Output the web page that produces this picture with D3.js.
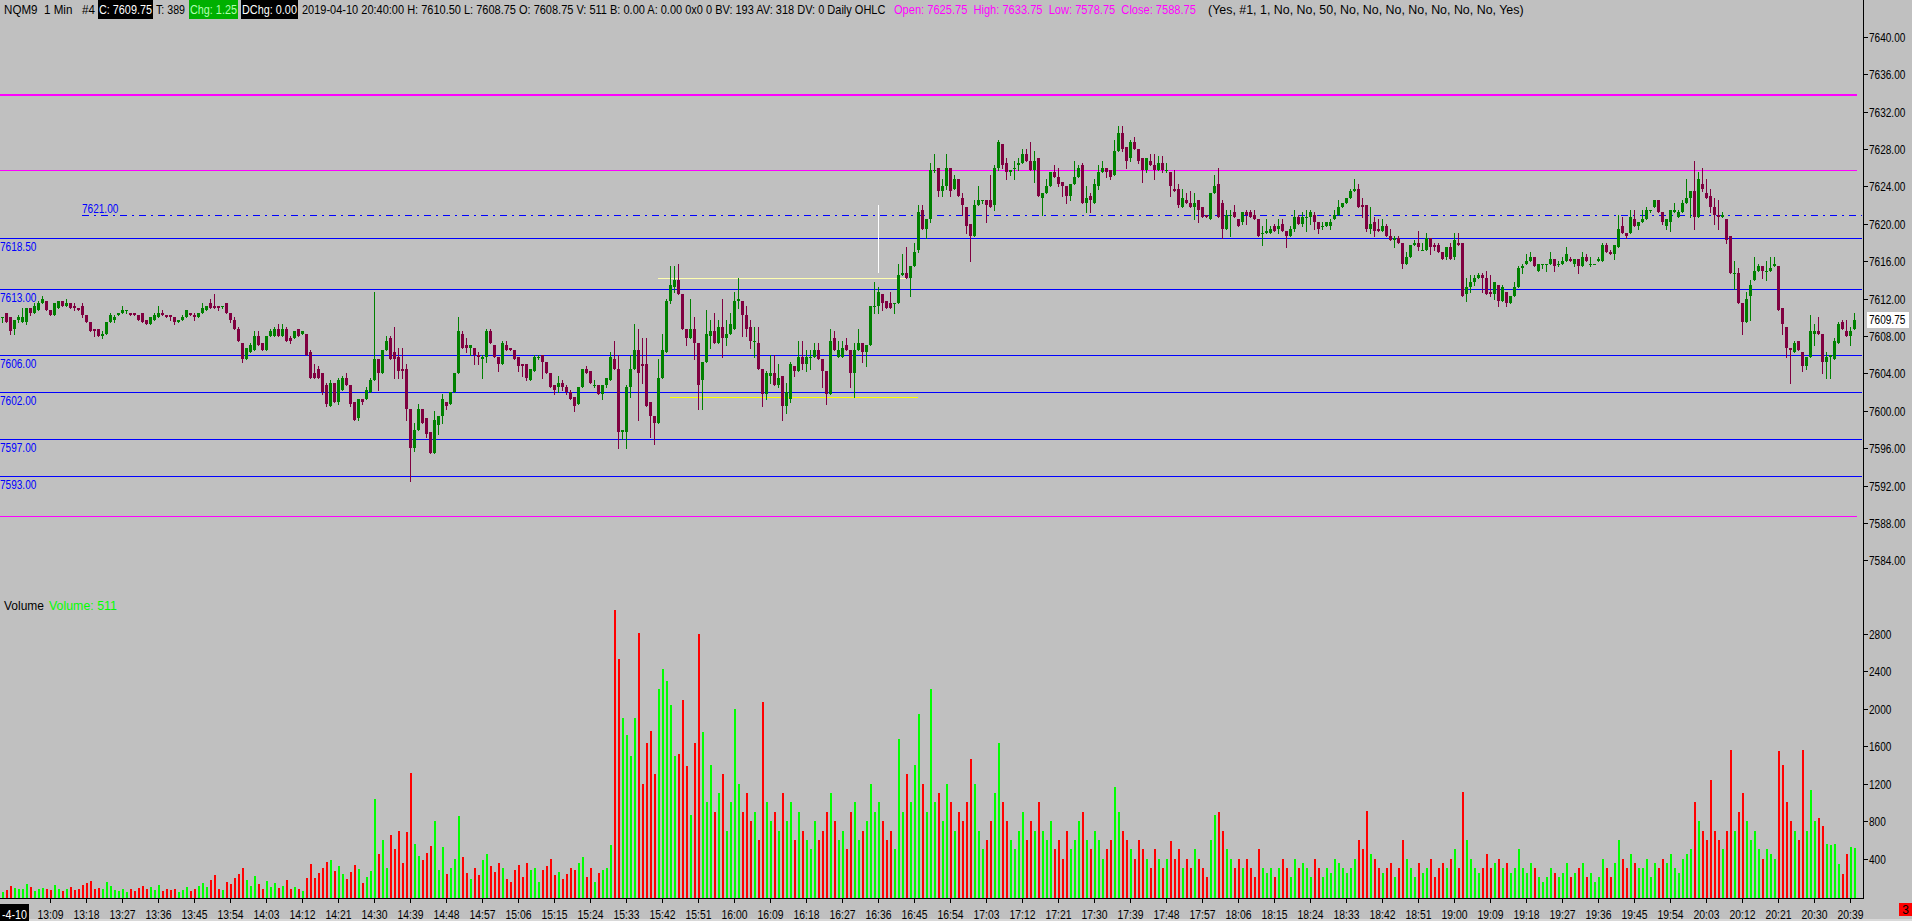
<!DOCTYPE html>
<html><head><meta charset="utf-8">
<script src="https://cdn.jsdelivr.net/npm/d3@7"></script>
<style>
html,body{margin:0;padding:0;background:#c0c0c0;overflow:hidden}
svg{display:block}
text{font-family:'Liberation Sans',Arial,'DejaVu Sans',sans-serif;white-space:pre}
</style></head><body>
<svg id="c" width="1912" height="921"></svg>
<script>
// ---- data: 1-minute bars, 12:57 .. 20:40 ----
const firstBarTime = "12:57";
const open = [
7610,7610.5,7610,7608.75,7609.75,7609.5,7609.5,7611,7610.5,7610.75,
7611.5,7611.75,7610.75,7610.25,7611,7611.75,7611.25,7611.5,7611.25,7611,
7611.25,7610.25,7609.5,7608.75,7608.75,7608,7608.25,7609.5,7609.75,7610.25,
7610.5,7610.75,7610.5,7610.5,7610.25,7610.5,7609.75,7609.25,7609.75,7610,
7610.5,7610.25,7610.25,7610,7609.5,7609.75,7610,7610.5,7610.25,7610,
7610.5,7610.75,7611.5,7611.25,7611.25,7611.25,7611.5,7610.5,7609.75,7608.75,
7607.25,7605.5,7606.25,7606.5,7608,7607.25,7606.5,7608,7608,7608.75,
7608,7608.75,7607.75,7607.75,7608.75,7608.25,7608.25,7606.25,7604,7604.5,
7604,7602.75,7600.5,7603,7601,7602.25,7603.5,7602.75,7601,7599.25,
7601.25,7601.25,7602,7603.25,7605.5,7604,7606.5,7607.75,7606.25,7605.75,
7604.5,7604.5,7600.25,7596,7598,7600.25,7599.25,7597.75,7595.5,7598.5,
7599.5,7601,7600.75,7602,7604,7608.25,7607,7606.75,7606.75,7606,
7605.5,7605.75,7608.5,7607,7605.75,7605,7607,7606.75,7606.5,7605.75,
7605,7605,7603.25,7604.25,7605.75,7606,7605.25,7604,7602.75,7602.5,
7603,7602.5,7602,7601.5,7600.75,7602.5,7604.5,7604.25,7602.75,7602.75,
7601.75,7602.75,7603.25,7605.5,7604.5,7597.75,7597.75,7602.5,7604.5,7606.5,
7605,7605,7601,7599.5,7598.75,7603.5,7606.25,7611.75,7613.25,7614,
7612.5,7608.75,7607.75,7608.75,7607.25,7603.25,7605.25,7608,7608.5,7607.25,
7609,7607.75,7608.25,7608.75,7611.75,7611.75,7610.25,7609,7607.5,7607.25,
7604.5,7601.75,7603.75,7604,7602.75,7603.75,7600.5,7601.25,7604.75,7604.25,
7605.75,7605,7605.75,7605.75,7606.5,7605.5,7604.25,7601.75,7607.75,7605.75,
7605.75,7607,7606.5,7604,7606.5,7607.25,7606.25,7607,7611.25,7611.25,
7612.5,7611.75,7611.5,7611.5,7611.5,7614.5,7614.75,7614.25,7615.5,7617.25,
7621.5,7619.5,7620.5,7625.75,7626,7623.5,7624,7626,7623.75,7624.75,
7622.75,7621.75,7620,7618.75,7622,7622.5,7622.5,7622.5,7622,7626,
7628.5,7626.5,7625.5,7626,7626.25,7626.5,7627.5,7626.75,7625.75,7627,
7622.75,7623.25,7624,7625.5,7625,7624.5,7624,7623,7624.25,7625,
7626.25,7622.25,7623,7622.25,7624,7625.5,7626,7625.75,7625.25,7627.75,
7629.75,7628.25,7627,7628.75,7628,7627,7625.75,7626.75,7626.25,7625.75,
7626.5,7625.75,7625.5,7623.75,7623.75,7621.75,7622.5,7622.25,7621.75,7622.5,
7621.75,7621,7620.5,7623.25,7624.25,7622.25,7619.5,7621,7621.25,7620.5,
7620.25,7621.25,7621.25,7621,7620.5,7619,7619,7619,7619.75,7619.5,
7620,7619.25,7618.75,7619.5,7620.75,7620,7620.75,7620.75,7621,7620.25,
7619.75,7619.75,7619.75,7620.5,7621,7621.75,7622.25,7622.75,7623.5,7623.75,
7622,7622,7619.5,7620.25,7619.5,7619.25,7619.75,7618.75,7618.25,7618.5,
7618,7615.75,7616.5,7617.75,7618,7617.25,7617.25,7618.5,7617.75,7617.75,
7617,7616.5,7617.5,7616.5,7618,7618,7612.5,7613.25,7613.75,7614.25,
7614.5,7614.25,7612.75,7612.5,7613.5,7611.75,7612.75,7611.5,7612.25,7613.25,
7615.25,7615.75,7616,7616.5,7615,7615.75,7615.75,7615.75,7616.25,7615.75,
7615.75,7616,7616.25,7615.75,7616.25,7615.5,7616.5,7615.75,7615.75,7616,
7616,7617.75,7617,7616.75,7617.5,7619.75,7619,7619,7620.5,7619.75,
7620.25,7620.5,7621.5,7621.75,7622.5,7621.25,7619.75,7620.25,7621.25,7620.75,
7621.25,7622.25,7622.75,7623.5,7620.75,7624.25,7623.25,7623,7621.75,7621,
7620.75,7620.5,7618.75,7614.75,7614.75,7611.5,7609.5,7612.25,7614,7615,
7615.5,7615,7615,7615.5,7615.5,7611,7609,7606.75,7606.25,7607.5,
7606.25,7604.75,7605.75,7608.25,7608.5,7608.25,7605.25,7605.75,7605.5,7607.25,
7609.5,7608.5,7608,7608.75];
const high = [
7610,7610.5,7610,7609.75,7610.25,7611,7611,7611,7611.5,7611.75,
7612.25,7611.75,7610.75,7611.5,7611.75,7611.75,7612,7611.5,7611.5,7611,
7611.5,7610.25,7609.5,7608.75,7608.75,7608.5,7609.5,7610.5,7610.25,7610.5,
7611.25,7610.75,7610.5,7610.5,7610.25,7610.5,7609.75,7610,7610.5,7611.25,
7610.75,7610.25,7610.25,7610,7609.75,7610.25,7610.75,7610.5,7610.5,7610.5,
7611.5,7611.25,7612,7612.5,7611.25,7611.25,7611.5,7610.5,7610,7609,
7607.25,7606.75,7607.25,7608.5,7608.5,7607.25,7608,7608.75,7609,7609.25,
7609.25,7609,7608,7608.5,7608.75,7608.5,7608.25,7606.5,7605,7604.75,
7604,7603,7603.25,7603,7603.5,7603.75,7604,7602.75,7601,7601.25,
7601.25,7602.5,7603.5,7612.75,7605.5,7606.5,7608,7608,7609,7606.75,
7606.75,7605,7600.25,7598.75,7600.75,7600.25,7599.25,7597.75,7600,7599.5,
7601.75,7601,7602,7604,7610,7608.5,7607.75,7607,7606.75,7606.25,
7606,7608.75,7608.75,7607,7605.75,7607.5,7607.5,7606.75,7606.5,7605.75,
7605,7605,7604.5,7606,7606,7606,7605.25,7604,7602.75,7603.75,
7603.25,7602.75,7602.25,7601.5,7602.5,7604.5,7604.75,7604.25,7603.25,7602.75,
7602.75,7603.5,7606.25,7607.5,7606,7598,7602.75,7606,7609.25,7608.75,
7607.75,7607.75,7601,7599.5,7605.5,7608.25,7612,7615.5,7615.5,7615.75,
7612.5,7608.75,7612,7610,7607.25,7605.25,7610.75,7609.75,7610.5,7609.75,
7612,7609.75,7610.5,7612.75,7614.25,7611.75,7611.25,7609.75,7609,7609,
7604.5,7604.25,7606,7606,7605,7603.75,7603,7605.25,7604.75,7607.5,
7607.5,7606.5,7606.5,7607.25,7607.25,7605.5,7604.25,7608.75,7608.5,7607.5,
7607.5,7607.75,7606.5,7607.25,7608.75,7607.25,7607,7611.25,7613.75,7613.25,
7612.5,7611.75,7612.75,7611.5,7615.75,7616.75,7617.5,7615.5,7618,7622,
7622,7620.5,7626.5,7627.5,7626,7624.75,7627.5,7626,7625.25,7624.75,
7623.25,7621.75,7620,7622.5,7624,7622.5,7622.5,7625.25,7626.25,7629,
7628.5,7627,7625.75,7626.75,7627,7628,7628,7628.75,7627.75,7627,
7623.25,7624.75,7625.5,7626.25,7626,7624.5,7624,7624.25,7626.75,7626.25,
7626.5,7624,7623.25,7624.75,7626.25,7626.75,7626,7625.75,7629,7630.5,
7630.5,7628.25,7629,7629.25,7628,7627,7627,7627.5,7627.5,7627.25,
7627.25,7626.5,7625.5,7625.75,7624.25,7623.75,7623.25,7623.5,7623.25,7622.5,
7621.75,7621,7623.25,7625.25,7626,7622.5,7621.5,7621.5,7622,7620.5,
7621.25,7621.5,7621.5,7621.5,7620.5,7619.75,7620.5,7619.75,7620,7620.5,
7620.5,7619.25,7619.75,7621.5,7621,7621.25,7621.5,7621.5,7621.25,7620.25,
7620.25,7620.25,7620.5,7621.5,7622.5,7622.25,7622.75,7623.75,7624.75,7624.25,
7622.75,7622,7621.75,7620.75,7620.5,7620.5,7620,7619.5,7618.75,7618.75,
7618,7617,7617.75,7618.25,7619.25,7618,7619,7618.5,7618,7618,
7617,7617.5,7618,7619,7619,7618,7614.25,7614.5,7614.5,7614.75,
7614.75,7615,7614.5,7613.75,7613.5,7613.5,7612.75,7612.25,7613.75,7615.5,
7615.75,7616.75,7617,7616.5,7615.75,7615.75,7615.75,7617,7616.25,7616,
7616.5,7617.5,7616.5,7616.25,7616.25,7617,7616.75,7616.5,7615.75,7616.5,
7618,7618,7617.25,7617.75,7621,7620.75,7619,7621.5,7621.5,7620.25,
7621.5,7621.75,7621.5,7622.5,7622.5,7621.25,7620.5,7621.5,7622.25,7621.5,
7622.5,7624.75,7623.5,7626.75,7625.5,7626,7624.75,7623.75,7622.75,7622.5,
7621.25,7620.5,7618.75,7616,7615.25,7611.5,7612.75,7614,7616.5,7615.75,
7615.5,7616,7616.5,7616.5,7615.5,7611,7609,7606.75,7607.5,7607.5,
7606.25,7605.75,7610.25,7609.25,7610,7608.25,7606.25,7606,7607.75,7609.5,
7609.75,7609.75,7609,7610.5];
const low = [
7609.5,7609.5,7608.25,7608.25,7609.5,7609.5,7609.25,7610.25,7610.5,7610.75,
7611.5,7610.75,7610.25,7610.25,7611,7611.25,7611.25,7611,7610.75,7610.75,
7610,7609.5,7608.5,7608,7608,7607.75,7608.25,7609.5,7609.5,7610.25,
7610.5,7610.5,7610.25,7610.25,7609.75,7609.5,7609.25,7609.25,7609.75,7610,
7610.25,7610,7609.75,7609.25,7609.5,7609.75,7610,7610.25,7609.75,7610,
7610.5,7610.75,7611,7611,7610.75,7611,7610.5,7609.5,7608.75,7607.5,
7605.25,7605.5,7606.25,7606.5,7607,7606.5,7606.5,7608,7608,7608,
7608,7607.5,7607.25,7607.75,7608,7608.25,7606,7603.5,7603.5,7603.5,
7601.75,7600.5,7600.5,7601,7600.75,7602.25,7602.75,7600.5,7599,7599,
7600.75,7601.25,7602,7603.25,7602.25,7604,7606.5,7605.5,7603.5,7603.5,
7603.5,7599,7592.5,7595.75,7598,7598.75,7597.25,7595.5,7595.5,7597.5,
7598.75,7600.25,7600.75,7602,7604,7606.75,7606.25,7606,7605,7605,
7603.5,7605.25,7607.25,7605.75,7604.25,7605,7606.5,7606.5,7605.5,7604.25,
7603.75,7603.25,7603.25,7604.25,7605.5,7603.5,7604,7602.5,7601.75,7602,
7602.25,7601.75,7601.25,7600,7600.75,7602.5,7604,7603,7602.5,7601.75,
7601.25,7602.5,7603.25,7604.5,7596,7597,7596,7601.5,7604.5,7599,
7603,7600.5,7597.25,7596.5,7598.75,7603.5,7606.25,7611.5,7612.75,7612.5,
7608.75,7607,7607.75,7605.5,7600.25,7600.25,7605.25,7606.75,7607.25,7607.25,
7605.75,7607,7608.25,7608.75,7611,7608,7608,7606.75,7605.75,7604.5,
7600.5,7601.25,7603,7602.75,7602.5,7599,7599.75,7601,7603.75,7604.25,
7604.5,7604.25,7604.5,7605.75,7605.5,7602.5,7600.75,7601.75,7606.5,7605.75,
7605.75,7606.5,7602.5,7601.5,7606.5,7605.25,7604.75,7607,7610.5,7610.5,
7610.75,7611,7611,7610.5,7611.5,7614.5,7614.25,7612.25,7615.5,7617,
7619.5,7618.5,7620.25,7625.5,7623,7623,7623.75,7623,7623.75,7623,
7621,7619,7616,7618.75,7622,7622.25,7620.25,7621.75,7621.5,7625.75,
7626,7624.75,7625.25,7624.75,7625.75,7626.5,7626.75,7625.75,7624.5,7623,
7621,7623.25,7624,7625,7624,7623,7622.25,7622.5,7624.25,7625,
7622.25,7621.25,7621.25,7622.25,7623.75,7625.5,7625,7624.75,7625.25,7627.75,
7627.75,7626,7626.75,7628,7626.5,7624.5,7625.5,7626.25,7624.75,7625.75,
7625.5,7625.5,7623,7623.5,7621.75,7621.75,7622.25,7621.75,7620.5,7620.25,
7620.75,7620.75,7620.5,7623.25,7620.75,7618.5,7619.5,7618.75,7620.75,7619.75,
7620,7620,7620.75,7620.5,7618.75,7617.75,7619,7619,7619.25,7619,
7619.25,7617.5,7618.75,7619.25,7620,7619.75,7619.25,7620,7619.5,7619,
7619.5,7619.75,7619.5,7620.5,7621,7621.75,7622.25,7622.75,7623.5,7621.75,
7620.75,7619.25,7619,7618.75,7619.25,7619.25,7618.75,7618.25,7617.5,7618,
7615.25,7615.75,7616.5,7617.75,7617.25,7617.25,7617.25,7616.75,7617.25,7617,
7616.25,7616.25,7616.25,7616.25,7617.75,7612.25,7611.75,7612.75,7613.5,7614.25,
7612.75,7612.5,7612.25,7612,7611.25,7611.75,7611.25,7611.5,7612.25,7613.25,
7614.75,7615.75,7616,7615.5,7615,7615.25,7615,7615.75,7615,7615.5,
7615.75,7616,7616,7615.5,7614.75,7615.5,7616,7615.5,7615.75,7616,
7616,7617,7616.75,7616.25,7617.5,7619,7618.5,7619,7619.75,7619.5,
7620.25,7620.5,7621.25,7621.75,7621.25,7620,7619.5,7619.25,7621.25,7620.75,
7621.25,7622.25,7620.75,7619.5,7620.75,7623.5,7622.75,7621.25,7620,7619.5,
7620.75,7618,7614.75,7613,7611.5,7608.25,7609.5,7609.75,7614,7615,
7614.25,7614,7615,7615.5,7610.75,7608.25,7605.75,7603,7606.25,7606.5,
7604.25,7604.5,7605.75,7607,7608.25,7604,7603.5,7603.5,7605.5,7607.25,
7608.75,7608,7607,7608.75];
const close = [
7610,7609.5,7608.5,7609.75,7610,7610,7611,7610.5,7611.25,7611.5,
7612,7610.75,7610.25,7611.5,7611.75,7611.25,7611.5,7611,7611,7610.75,
7610.25,7609.5,7608.5,7608.5,7608,7608.25,7609.5,7610.25,7610,7610.5,
7610.75,7610.75,7610.25,7610.25,7609.75,7609.5,7609.25,7610,7610.25,7610.5,
7610.25,7610,7610,7609.5,7609.75,7610,7610.75,7610.25,7610,7610.5,
7611,7611.25,7611,7611,7611,7611.25,7610.5,7609.75,7608.75,7607.5,
7605.5,7606.75,7607,7608,7607,7606.5,7608,7608.5,7608.75,7608,
7608.75,7607.5,7607.5,7608.5,7608,7608.5,7606,7603.5,7603.5,7603.5,
7602,7600.75,7603,7601,7603.25,7603.5,7602.75,7600.75,7599,7601.25,
7601,7602.25,7603.25,7605.5,7604,7606.5,7607.5,7605.5,7605.5,7604.25,
7604.25,7600.25,7596,7598,7600.25,7598.75,7597.5,7595.5,7599,7599.5,
7601.25,7600.5,7602,7604,7608.5,7606.75,7606.75,7607,7606,7605.75,
7605.75,7608.5,7607.25,7605.75,7605,7607.25,7606.5,7606.5,7605.5,7604.75,
7604.75,7603.5,7604.5,7605.75,7605.75,7605.25,7604,7602.5,7602.25,7603,
7602.5,7602,7601.25,7600.5,7602.5,7604.5,7604,7603,7602.75,7601.75,
7602.75,7603.5,7605.75,7604.5,7597.75,7598,7602.5,7604.5,7606.5,7604,
7604.75,7600.5,7599.5,7598.75,7603.5,7606.5,7611.75,7613.5,7614,7612.5,
7608.75,7607.75,7608.75,7607.25,7602.75,7605.25,7608.25,7608.5,7607.25,7609,
7607.75,7608.25,7609.25,7611.75,7612,7610.25,7608.75,7607.5,7607.5,7604.5,
7601.75,7604,7604,7602.75,7603.5,7600.5,7602,7605,7604.25,7605.75,
7605,7605.75,7605.75,7606.5,7605.5,7604.25,7601.75,7607.5,7606.5,7606.5,
7606.75,7606.5,7604,7606.5,7607.25,7606.25,7607,7611.25,7611.25,7612.75,
7611.5,7611,7611,7611.5,7614.5,7614.75,7614.25,7615.5,7617,7621.25,
7619.5,7620.5,7625.75,7625.75,7623.5,7624,7626,7623.5,7624.75,7623,
7622,7619.75,7618.75,7622,7622.5,7622.5,7622,7621.75,7626,7628.75,
7626.25,7625.5,7625.75,7626,7626.5,7627.5,7626.75,7625.75,7626.75,7623,
7623.25,7624,7625.5,7625,7624.25,7624,7623,7624.25,7625,7626,
7622.25,7622.75,7622.5,7624.25,7625.5,7626,7625.5,7625,7627.75,7629.75,
7628,7626.75,7628.75,7628,7626.75,7625.75,7627,7626.25,7625.75,7626.5,
7625.75,7625.75,7624,7623.5,7622,7622.75,7622.25,7621.75,7622.25,7621.5,
7620.75,7620.75,7623.25,7624,7620.75,7619.5,7621,7621,7620.75,7619.75,
7621.25,7621,7620.75,7620.5,7618.75,7619,7619.25,7619.5,7619.25,7619.75,
7619.25,7618.75,7619.5,7620.75,7620,7620.75,7620.75,7621.25,7620.25,7619.5,
7619.75,7620.25,7620.25,7621,7621.75,7622.25,7622.75,7623.5,7623.75,7621.75,
7621.75,7619.5,7620,7619.25,7619.25,7619.75,7618.75,7618.25,7618.5,7618,
7615.75,7616.5,7617.75,7618,7617.5,7617.25,7618.5,7617.5,7617.5,7617,
7616.25,7617.5,7616.25,7618.25,7617.75,7612.25,7613.25,7613.75,7614.25,7614.5,
7614.25,7612.5,7612.5,7613.75,7611.75,7613.25,7611.5,7612.25,7613.25,7615.25,
7615.5,7616,7616.5,7615.5,7615.75,7615.75,7615.75,7616.25,7615.5,7615.75,
7616,7616.75,7616,7616.25,7615.5,7616.5,7616,7615.75,7615.75,7616.25,
7617.75,7617,7616.75,7617.75,7619.5,7619,7618.75,7620.75,7619.75,7620.25,
7620.5,7621.5,7621.5,7622.5,7621.25,7620.25,7620.5,7621.5,7621.5,7621.25,
7622.25,7622.75,7623.5,7620.75,7624.75,7623.75,7622.75,7621.75,7621,7620.75,
7621,7618.25,7614.75,7614.75,7611.5,7609.5,7612,7613.5,7615,7615.5,
7615,7615,7615.25,7615.75,7610.75,7609.25,7606.75,7606.5,7607.25,7606.5,
7604.75,7605.75,7608.5,7608.5,7608.25,7605.25,7605.75,7606,7607.5,7609.25,
7608.75,7608,7608.5,7609.75];
const volume = [
40,60,110,90,70,80,130,100,50,80,
90,70,60,120,80,50,70,100,60,80,
120,140,160,80,90,70,150,110,60,50,
80,40,70,50,90,110,80,100,60,120,
50,70,60,80,40,60,100,50,80,110,
140,100,170,220,80,60,150,130,190,240,
300,170,110,210,130,80,160,100,140,90,
110,170,80,100,70,50,190,340,190,250,
300,360,380,270,320,240,180,260,330,290,
140,200,270,1040,450,600,300,650,500,700,
350,680,1310,560,430,380,460,530,800,280,
520,230,300,400,850,420,250,180,300,220,
380,450,320,260,350,300,180,150,280,330,
200,350,280,300,150,280,320,400,220,260,
180,230,300,280,350,420,200,300,150,250,
280,300,540,3060,2530,1900,1720,1500,1900,2810,
1200,1640,1760,1300,2210,2430,2300,2040,1500,1520,
2100,1390,870,1630,2800,1750,1000,1400,900,1100,
1300,700,1000,2000,1200,900,1100,800,900,600,
2070,1000,800,900,700,1100,800,1000,600,900,
700,600,500,800,600,700,900,1100,800,600,
700,500,900,1000,600,700,800,1200,900,1000,
800,600,700,500,1680,900,1300,1000,1400,1940,
1200,900,2215,1000,1100,800,1200,1000,700,900,
800,1000,1460,1200,700,500,600,800,1100,1630,
1000,800,600,500,700,900,600,800,700,1000,
700,600,800,500,600,400,700,500,600,800,
900,600,500,700,600,400,500,600,1160,900,
700,600,500,400,600,500,400,300,500,400,
300,400,590,400,500,300,400,300,500,400,
300,200,600,870,900,700,500,400,300,400,
300,400,300,200,500,300,250,300,200,300,
400,300,200,400,300,350,300,200,400,300,
200,300,250,400,350,300,250,300,400,600,
500,910,450,400,300,250,300,350,200,300,
600,400,300,200,350,250,300,400,200,300,
350,300,400,500,300,1110,600,400,300,250,
300,450,300,350,400,300,350,250,300,500,
300,250,350,300,200,150,200,300,250,200,
250,350,200,250,300,350,200,250,150,200,
400,300,200,350,600,400,300,450,350,300,
300,400,200,350,300,400,350,450,300,250,
400,450,500,1000,800,700,600,1240,700,600,
500,700,1560,700,900,1100,800,600,700,500,
400,500,450,400,1550,1400,1000,800,700,600,
1560,700,1130,800,830,750,560,540,560,340,
230,450,520,511];
const timeLabels = ["13:09","13:18","13:27","13:36","13:45","13:54","14:03","14:12","14:21","14:30","14:39","14:48","14:57","15:06","15:15","15:24","15:33","15:42","15:51","16:00","16:09","16:18","16:27","16:36","16:45","16:54","17:03","17:12","17:21","17:30","17:39","17:48","17:57","18:06","18:15","18:24","18:33","18:42","18:51","19:00","19:09","19:18","19:27","19:36","19:45","19:54","20:03","20:12","20:21","20:30","20:39"];
const dateLabel = "-4-10";
const priceTicks = [7640,7636,7632,7628,7624,7620,7616,7612,7608,7604,7600,7596,7592,7588,7584];
const volumeTicks = [2800,2400,2000,1600,1200,800,400];
const blueLevels = [7618.5,7613,7606,7602,7597,7593];
const dailyLevels = [7633.75,7625.75,7588.75];
const pivotLevel = 7621;
const lastPrice = 7609.75;
const lastVolume = 511;
const rangeHigh = 7614.25, rangeLow = 7601.5;
const rangeStartBar = [164,167], rangeEndBar = [226,229];
const markerBar = 219, markerFrom = 7614.75, markerTo = 7622;

// ---- drawing ----
const svg = d3.select('#c');
const N = open.length;
const AXX = 1863;
const GREEN = '#008000', RED = '#800040';
const x = d3.scaleLinear().domain([0, N - 1]).range([2.3, 2.3 + 4 * (N - 1)]);
const yP = d3.scaleLinear().domain([7584, 7640]).range([560.45, 36.85]);
const yV = d3.scaleLinear().domain([0, 2800]).range([896, 634]);
const mins = s => { const [h, m] = s.split(':').map(Number); return h * 60 + m; };
const t0 = mins(firstBarTime);
const px = i => Math.round(x(i));
// narrow UI font: draw text then squeeze it horizontally to the width it has in the chart
const wOf = s => Array.from(s).reduce((a, ch) => a + (ch === '.' || ch === ':' || ch === ' ' ? 2.8 : 5.6), 0);
function fit(g, s, xx, yy, width, fill, size, anchor) {
  const t = g.append('text').attr('font-size', size || 13).attr('fill', fill).text(s);
  if (anchor) t.attr('text-anchor', anchor);
  const w = t.node().getComputedTextLength() || width;
  t.attr('transform', `translate(${xx},${yy}) scale(${(width / w).toFixed(4)},1)`);
  return t;
}

svg.append('rect').attr('width', 1912).attr('height', 921).attr('fill', '#c0c0c0');

// level lines
const lv = svg.append('g').attr('shape-rendering', 'crispEdges');
blueLevels.forEach(p => {
  const y = Math.round(yP(p)) + 0.5;
  lv.append('line').attr('x1', 0).attr('x2', 1862).attr('y1', y).attr('y2', y).attr('stroke', '#0000ff');
  fit(lv, p.toFixed(2), 0, y + 12, wOf(p.toFixed(2)), '#0000ff');
});
dailyLevels.forEach((p, i) => {
  const w = i === 0 ? 2 : 1;
  const y = i === 0 ? Math.round(yP(p)) : Math.round(yP(p)) + 0.5;
  lv.append('line').attr('x1', 0).attr('x2', 1857).attr('y1', y).attr('y2', y).attr('stroke', '#ff00ff').attr('stroke-width', w);
});
{
  const y = Math.round(yP(pivotLevel)) + 0.5;
  lv.append('line').attr('x1', 82).attr('x2', 1862).attr('y1', y).attr('y2', y).attr('stroke', '#0000ff').attr('stroke-dasharray', '7,5,2,5');
  fit(lv, pivotLevel.toFixed(2), 82, y - 2.5, wOf(pivotLevel.toFixed(2)), '#0000ff');
}
{
  const yh = Math.round(yP(rangeHigh)) + 0.5, yl = Math.round(yP(rangeLow)) + 0.5;
  lv.append('line').attr('x1', x(rangeStartBar[0])).attr('x2', x(rangeEndBar[0])).attr('y1', yh).attr('y2', yh).attr('stroke', '#ffffb0');
  lv.append('line').attr('x1', x(rangeStartBar[1])).attr('x2', x(rangeEndBar[1])).attr('y1', yl).attr('y2', yl).attr('stroke', '#ffff00');
  const mx = px(markerBar) + 0.5;
  lv.append('line').attr('x1', mx).attr('x2', mx).attr('y1', yP(markerTo)).attr('y2', yP(markerFrom)).attr('stroke', '#ffffff');
}

// candles
const idx = d3.range(N);
const col = i => close[i] >= open[i] ? GREEN : RED;
const cg = svg.append('g').attr('shape-rendering', 'crispEdges');
cg.selectAll('line').data(idx).join('line')
  .attr('x1', i => px(i) + 0.5).attr('x2', i => px(i) + 0.5)
  .attr('y1', i => Math.round(yP(Math.max(high[i], open[i], close[i]))))
  .attr('y2', i => Math.round(yP(Math.min(low[i], open[i], close[i]))) + 1)
  .attr('stroke', col);
cg.selectAll('rect').data(idx).join('rect')
  .attr('x', i => px(i) - 1).attr('width', 3)
  .attr('y', i => Math.round(yP(Math.max(open[i], close[i]))))
  .attr('height', i => Math.max(1, Math.round(yP(Math.min(open[i], close[i]))) - Math.round(yP(Math.max(open[i], close[i])))))
  .attr('fill', col);

// volume bars
const vg = svg.append('g').attr('shape-rendering', 'crispEdges');
vg.selectAll('rect').data(idx).join('rect')
  .attr('x', i => px(i)).attr('width', 2)
  .attr('y', i => Math.round(yV(volume[i])))
  .attr('height', i => 898 - Math.round(yV(volume[i])))
  .attr('fill', i => close[i] >= open[i] ? '#00ff00' : '#ff0000');
fit(svg, 'Volume', 4, 610, 40, '#000');
fit(svg, 'Volume: ' + lastVolume, 49, 610, 68, '#00ff00');

// right axis
const ax = svg.append('g').attr('shape-rendering', 'crispEdges');
ax.append('line').attr('x1', AXX + 0.5).attr('x2', AXX + 0.5).attr('y1', 0).attr('y2', 899).attr('stroke', '#000');
priceTicks.forEach(p => {
  const y = Math.round(yP(p)) + 0.5;
  ax.append('line').attr('x1', AXX).attr('x2', AXX + 5).attr('y1', y).attr('y2', y).attr('stroke', '#000');
  fit(ax, p.toFixed(2), AXX + 6, y + 4.5, wOf(p.toFixed(2)), '#000');
});
volumeTicks.forEach(v => {
  const y = Math.round(yV(v)) + 0.5;
  ax.append('line').attr('x1', AXX).attr('x2', AXX + 5).attr('y1', y).attr('y2', y).attr('stroke', '#000');
  fit(ax, String(v), AXX + 6, y + 4.5, wOf(String(v)), '#000');
});
{
  const y = yP(lastPrice);
  ax.append('rect').attr('x', AXX + 4).attr('y', Math.round(y) - 8).attr('width', 42).attr('height', 16).attr('fill', '#fff');
  fit(ax, lastPrice.toFixed(2), AXX + 6, y + 4.5, wOf(lastPrice.toFixed(2)), '#000');
}

// bottom axis
ax.append('line').attr('x1', 0).attr('x2', AXX + 1).attr('y1', 898.5).attr('y2', 898.5).attr('stroke', '#000');
timeLabels.forEach(t => {
  const xi = px(mins(t) - t0) + 0.5;
  ax.append('line').attr('x1', xi).attr('x2', xi).attr('y1', 899).attr('y2', 903).attr('stroke', '#000');
  fit(ax, t, xi, 919, 26, '#000', 13, 'middle');
});
svg.append('rect').attr('x', 0).attr('y', 904).attr('width', 29).attr('height', 17).attr('fill', '#000');
fit(svg, dateLabel, 2, 919, 25, '#fff', 13);
svg.append('rect').attr('x', 29).attr('y', 919).attr('width', 1883).attr('height', 2).attr('fill', '#d8d8d8');
svg.append('rect').attr('x', 1899).attr('y', 903).attr('width', 13).attr('height', 13).attr('fill', '#ff0000');
svg.append('text').attr('x', 1905.5).attr('y', 914).attr('font-size', 12).attr('text-anchor', 'middle').attr('fill', '#000').text('3');

// header
const hd = svg.append('g');
function seg(x0, x1, s, fill, bg, bgcol) {
  if (bg) hd.append('rect').attr('x', x0 - 1).attr('y', 0).attr('width', x1 - x0 + 2).attr('height', 19).attr('fill', bgcol);
  fit(hd, s, x0, 14, x1 - x0, fill, 13);
}
seg(4, 95, 'NQM9  1 Min   #4', '#000');
seg(99, 152, 'C: ' + lastPrice.toFixed(2), '#fff', true, '#000');
seg(156, 185, 'T: 389', '#000');
seg(190, 237, 'Chg: 1.25', '#b0ffb0', true, '#00b000');
seg(242, 297, 'DChg: 0.00', '#fff', true, '#000');
seg(302, 886, '2019-04-10 20:40:00 H: 7610.50 L: 7608.75 O: 7608.75 V: 511 B: 0.00 A: 0.00 0x0 0 BV: 193 AV: 318 DV: 0 Daily OHLC', '#000');
seg(894, 1196, 'Open: 7625.75  High: 7633.75  Low: 7578.75  Close: 7588.75', '#ff00ff');
seg(1208, 1524, '(Yes, #1, 1, No, No, 50, No, No, No, No, No, No, No, Yes)', '#000');
</script>
</body></html>
